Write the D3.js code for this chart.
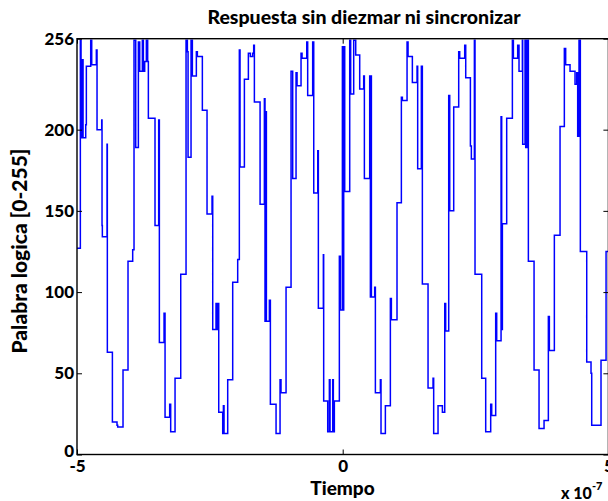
<!DOCTYPE html>
<html>
<head>
<meta charset="utf-8">
<script src="https://cdn.jsdelivr.net/npm/d3@7"></script>
<style>
  html, body { margin: 0; padding: 0; background: #fff; }
  svg { display: block; }
  text { font-family: Lato, "Open Sans", sans-serif; font-weight: 900; fill: #000; }
</style>
</head>
<body>
<svg id="chart" width="608" height="501"></svg>
<script>
// Time in ns (axis shown in units of 1e-7 s), word value 0-255
const timeNs = [
  -500, -493.7, -492.4, -489.9, -488.6, -483.6, -482.4, -474.2, -472.3, -463.6, -462.3,
  -453.5, -452.9, -452.3, -443.5, -442.9, -433.4, -424.7, -423.4, -413.4, -404.0, -395.2,
  -392.7, -389.5, -384.5, -382.0, -377.0, -375.1, -372.6, -369.5, -367.0, -365.7, -353.2,
  -346.3, -345.0, -336.2, -334.3, -325.6, -323.7, -315.5, -304.8,
  -294.8, -292.3, -291.0, -285.4, -282.9, -275.4, -273.5, -264.1, -255.3,
  -245.9, -244.6, -238.4, -237.1, -235.2, -233.3, -225.8, -224.5, -223.3, -216.4, -207.0, -197.6,
  -194.5, -193.2, -185.0, -177.5, -173.8, -169.4, -167.5, -166.2, -155.5, -147.4, -146.2, -144.9,
  -143.6, -138.0, -136.1, -125.4, -117.9, -116.1, -106.6,
  -97.2, -94.1, -87.8, -85.9, -78.4, -76.5, -67.7, -65.9, -56.5, -54.5, -47.0, -45.8, -36.4,
  -35.8, -28.2, -25.1, -23.8, -18.8, -17.6, -15.7, -6.3, -4.4,
  -0.6, 0.6, 1.9, 3.8, 13.2, 15.0, 20.7, 24.5, 32.0, 39.5, 40.8, 50.8, 52.1, 52.7, 54.0, 60.2,
  61.5, 70.9, 72.1, 80.3, 89.7, 91.6, 102.2,
  110.4, 112.3, 121.1, 123.0, 131.1, 139.9, 141.1, 148.0, 149.9, 160.6, 170.0, 171.2, 179.4,
  187.6, 192.0, 193.8, 199.5, 201.4, 208.9, 218.3, 220.2, 229.6, 231.5, 240.3, 242.1,
  247.8, 249.0, 261.6, 269.1, 278.5, 280.4, 287.9, 289.8, 298.0, 299.2, 300.5, 308.6,
  319.3, 321.2, 329.3, 331.8, 338.1, 338.7, 343.1, 344.4, 346.9, 349.4, 360.1, 369.5, 378.9,
  387.0, 388.9, 398.3, 409.0, 417.1, 419.6, 427.8, 437.2, 440.4, 442.2, 444.7, 447.2, 459.2,
  467.3, 468.6, 486.1, 495.6, 500
];
const word = [
  127, 255, 195, 243, 195, 203, 239, 255, 240, 249, 200,
  206, 141, 134, 191, 63, 20, 18, 17, 52, 119, 126,
  255, 189, 254, 236, 255, 236, 242, 255, 242, 207, 141,
  206, 69, 87, 23, 31, 14, 47, 111,
  255, 248, 183, 255, 233, 248, 245, 212, 148,
  159, 77, 93, 77, 93, 26, 13, 30, 13, 46, 106, 120,
  249, 177, 231, 247, 245, 247, 252, 217, 154, 219, 82, 211,
  82, 95, 31, 13, 46, 38, 103,
  236, 170, 235, 227, 247, 244, 254, 221, 254, 161, 187, 90, 123,
  33, 14, 46, 14, 46, 14, 33, 122, 89,
  251, 89, 251, 162, 255, 222, 255, 246, 225, 233, 170, 233, 97, 233, 97, 103,
  38, 46, 13, 30, 96, 83, 155,
  220, 218, 254, 245, 229, 239, 176, 239, 105, 41, 47, 13, 30,
  26, 93, 76, 221, 150, 214, 248, 244, 252, 232, 190, 182,
  255, 111, 47, 14, 31, 24, 87, 70, 208, 77, 142, 207,
  255, 244, 252, 236, 255, 191, 255, 189, 255, 119, 52, 16, 21,
  85, 64, 135, 202, 250, 240, 236, 228, 235, 196, 255, 125, 57,
  50, 18, 58, 125, 125
];
const xTickValues = [-500, 0, 500];
const xTickLabels = ["-5", "0", "5"];
const yTickValues = [0, 50, 100, 150, 200, 256];
const titleText = "Respuesta sin diezmar ni sincronizar";
const xLabelText = "Tiempo";
const yLabelText = "Palabra logica [0-255]";

const svg = d3.select("#chart");
const L = 77, R = 608.4, T = 38.7, B = 454.5;
const x = d3.scaleLinear().domain([-500, 500]).range([L, R]);
const y = d3.scaleLinear().domain([0, 256]).range([B, T]);

svg.append("rect").attr("width", 608).attr("height", 501).attr("fill", "#fff");

svg.append("defs").append("clipPath").attr("id", "clip")
  .append("rect").attr("x", L).attr("y", T).attr("width", R - L).attr("height", B - T);

const data = timeNs.map((t, i) => ({ t, v: word[i] }));
const line = d3.line().x(d => x(d.t)).y(d => y(d.v)).curve(d3.curveStepAfter);
svg.append("path").datum(data)
  .attr("clip-path", "url(#clip)")
  .attr("d", line)
  .attr("fill", "none")
  .attr("stroke", "#0000ff")
  .attr("stroke-width", 1.5);

function styleAxis(g) {
  g.select(".domain").remove();
  g.selectAll(".tick line").attr("stroke", "#000").attr("stroke-width", 1);
  g.selectAll(".tick text").style("font-size", "17px").attr("fill", "#000");
}

const yAxisG = svg.append("g").attr("transform", `translate(${L},0)`)
  .call(d3.axisLeft(y).tickValues(yTickValues).tickSize(-5).tickPadding(3).tickFormat(d3.format("d")))
  .call(styleAxis);
// nudge the bottom label slightly up so it clears the x tick label below it
yAxisG.selectAll(".tick").filter(d => d === 0).select("text").attr("dy", "0.1em");

svg.append("g").attr("transform", `translate(${R},0)`)
  .call(d3.axisRight(y).tickValues(yTickValues).tickSize(-5).tickFormat(""))
  .call(styleAxis);
svg.append("g").attr("transform", `translate(0,${B})`)
  .call(d3.axisBottom(x).tickValues(xTickValues).tickSize(-5).tickPadding(5)
    .tickFormat((d, i) => xTickLabels[i]))
  .call(styleAxis);
svg.append("g").attr("transform", `translate(0,${T})`)
  .call(d3.axisTop(x).tickValues(xTickValues).tickSize(-5).tickFormat(""))
  .call(styleAxis);

svg.append("rect").attr("x", L).attr("y", T).attr("width", R - L).attr("height", B - T)
  .attr("fill", "none").attr("stroke", "#000").attr("stroke-width", 1.4);

svg.append("text").attr("x", 364).attr("y", 24).attr("text-anchor", "middle")
  .style("font-size", "19.5px").text(titleText);
svg.append("text").attr("x", 342.5).attr("y", 495).attr("text-anchor", "middle")
  .style("font-size", "19px").text(xLabelText);
svg.append("text").attr("transform", "translate(27,251) rotate(-90)").attr("text-anchor", "middle")
  .style("font-size", "21px").text(yLabelText);
const mult = svg.append("text").attr("x", 561).attr("y", 499).style("font-size", "16px");
mult.append("tspan").text("x 10");
mult.append("tspan").attr("dy", -9).style("font-size", "11px").text("-7");
</script>
</body>
</html>
